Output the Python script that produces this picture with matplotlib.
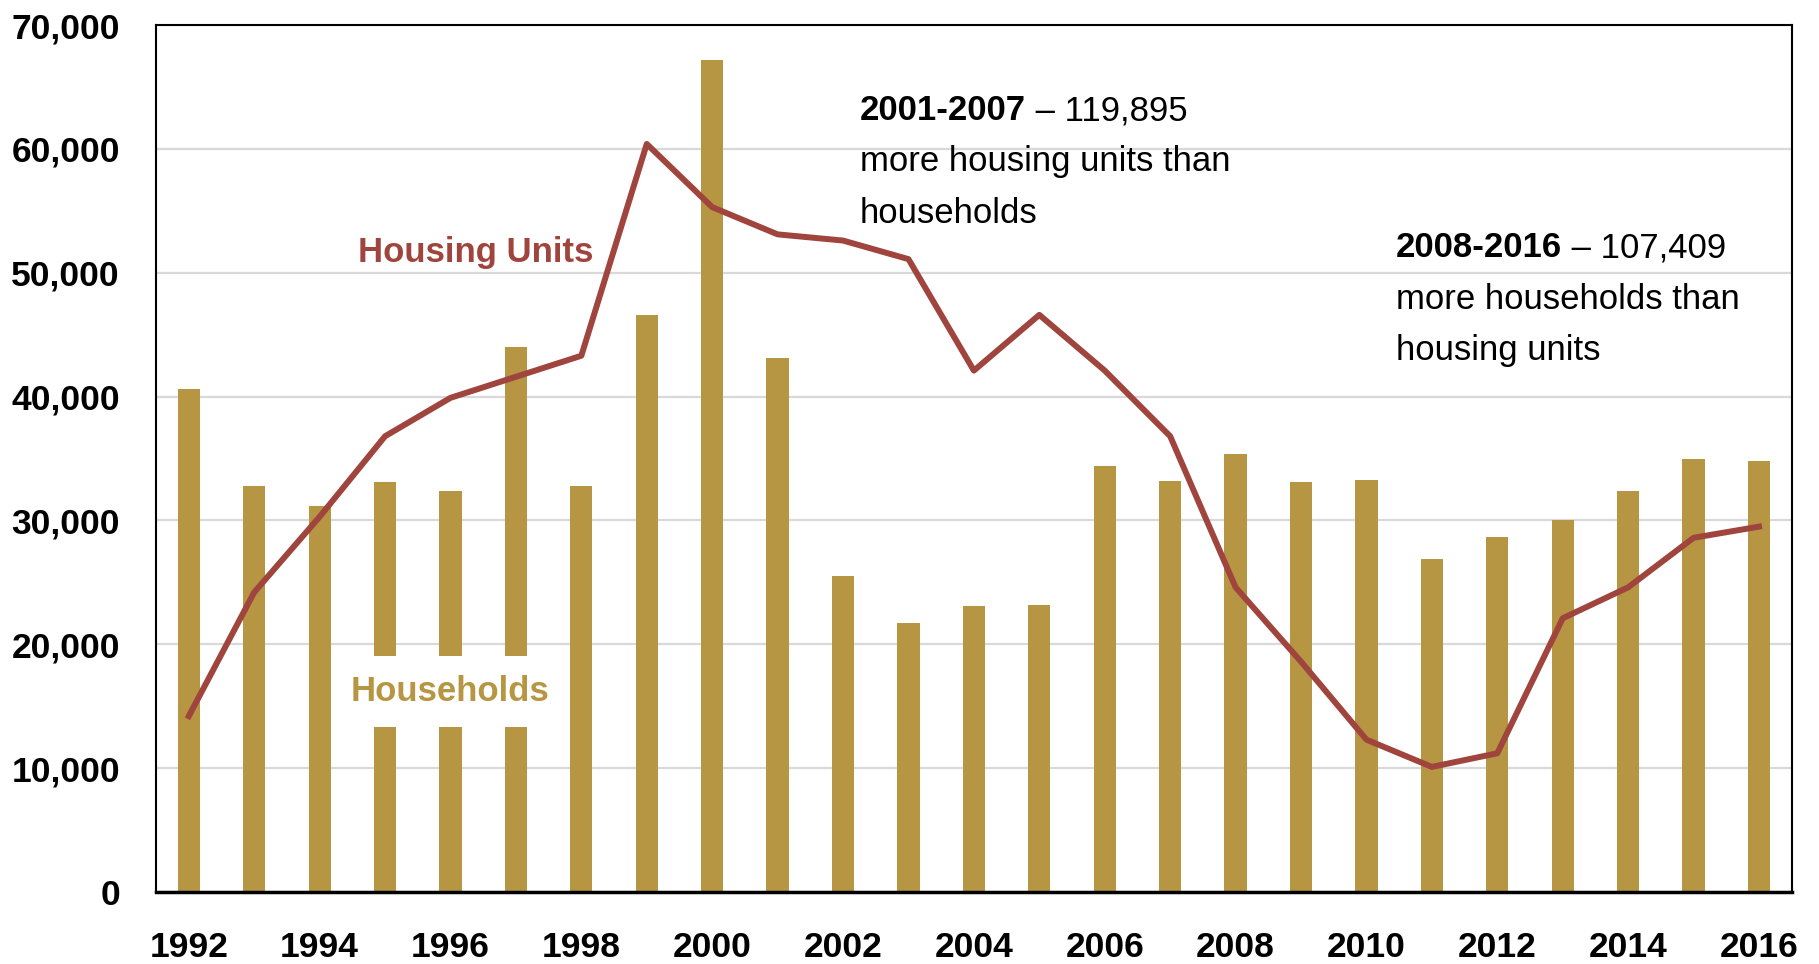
import matplotlib
matplotlib.use("Agg")
import matplotlib.pyplot as plt
from matplotlib.ticker import FuncFormatter, MultipleLocator

plt.rcParams["font.family"] = ["Liberation Sans", "DejaVu Sans"]

years = list(range(1992, 2017))
households = [40600, 32800, 31200, 33100, 32400, 44000, 32800, 46600, 67200, 43100,
              25500, 21700, 23100, 23200, 34400, 33200, 35400, 33100, 33300, 26900,
              28700, 30000, 32400, 35000, 34800]
housing_units = [14200, 24200, 30300, 36800, 39900, 41600, 43300, 60400, 55300, 53100,
                 52600, 51100, 42100, 46600, 42100, 36800, 24600, 18600, 12300, 10100,
                 11200, 22100, 24600, 28600, 29500]

GOLD = "#B69643"
RED = "#A0443E"

fig = plt.figure(figsize=(18.19, 9.64), dpi=100)
ax = fig.add_axes([0.0858, 0.0747, 0.8992, 0.8993])

ax.bar(years, households, width=0.34, color=GOLD, zorder=2)
ax.plot(years, housing_units, color=RED, lw=4.3, zorder=3)

ax.set_xlim(1991.5, 2016.5)
ax.set_ylim(0, 70000)
ax.yaxis.set_major_locator(MultipleLocator(10000))
ax.yaxis.set_major_formatter(FuncFormatter(lambda v, p: f"{int(v):,}"))
ax.set_xticks(years[::2])
ax.grid(axis="y", color="#D9D9D9", lw=1.6, zorder=0)
ax.tick_params(length=0, labelsize=25.5, pad=28)
ax.tick_params(axis="y", pad=26)
for lab in ax.get_xticklabels() + ax.get_yticklabels():
    lab.set_fontweight("bold")
for side in ["left", "top", "right"]:
    ax.spines[side].set_linewidth(1.5)
ax.spines["bottom"].set_linewidth(2.5)

# series labels
ax.text(1996.38, 51600, "Housing Units", color=RED, fontsize=25, fontweight="bold",
        ha="center", va="center", zorder=4)
ax.text(1995.99, 16200, "Households", color=GOLD, fontsize=25, fontweight="bold",
        ha="center", va="center", zorder=4,
        bbox=dict(boxstyle="square,pad=0.55", fc="white", ec="none"))

# annotations
def note(x, y, bold, rest, lines):
    t = ax.text(x, y, bold, fontsize=25, fontweight="bold", ha="left", va="center", zorder=4)
    ax.annotate(" \u2013 " + rest, xy=(1, 0.5), xycoords=t, fontsize=25,
                ha="left", va="center", zorder=4)
    for i, line in enumerate(lines):
        ax.text(x, y - (i + 1) * 4150, line, fontsize=25, ha="left", va="center", zorder=4)

note(2002.26, 63100, "2001-2007", "119,895", ["more housing units than", "households"])
note(2010.45, 52000, "2008-2016", "107,409", ["more households than", "housing units"])

fig.savefig("out.png", dpi=100)
